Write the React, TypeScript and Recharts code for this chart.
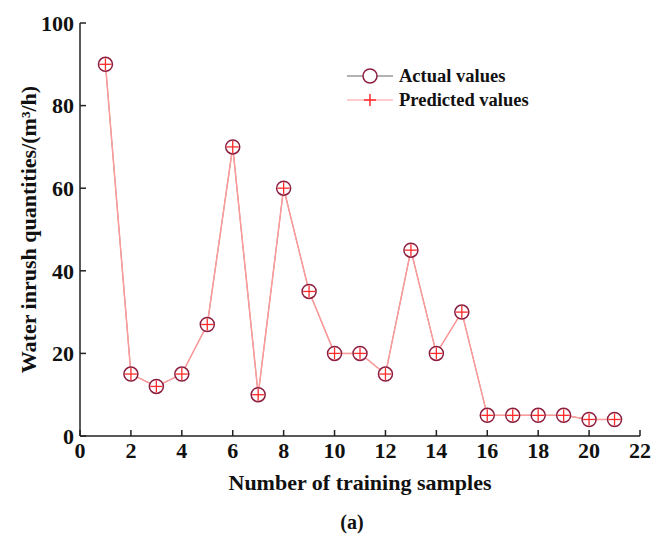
import React from "react";
import { Line, LineChart, XAxis, YAxis } from "recharts";

const samples = [1, 2, 3, 4, 5, 6, 7, 8, 9, 10, 11, 12, 13, 14, 15, 16, 17, 18, 19, 20, 21];
const actualValues = [90, 15, 12, 15, 27, 70, 10, 60, 35, 20, 20, 15, 45, 20, 30, 5, 5, 5, 5, 4, 4];
const predictedValues = [90, 15, 12, 15, 27, 70, 10, 60, 35, 20, 20, 15, 45, 20, 30, 5, 5, 5, 5, 4, 4];
const xTicks = [0, 2, 4, 6, 8, 10, 12, 14, 16, 18, 20, 22];
const yTicks = [0, 20, 40, 60, 80, 100];

const font = '"Liberation Serif", "Times New Roman", serif';
const circleColor = "#8c1f3f";
const plusColor = "#ff2a2a";
const lineColor = "#ff9a9a";

const data = samples.map((s, i) => ({
  sample: s,
  actual: actualValues[i],
  predicted: predictedValues[i],
}));

function PlusDot(props: any) {
  const { cx, cy } = props;
  if (cx == null || cy == null) return null;
  return (
    <g>
      <line x1={cx - 6} x2={cx + 6} y1={cy} y2={cy} stroke={plusColor} strokeWidth={1.3} />
      <line x1={cx} x2={cx} y1={cy - 6} y2={cy + 6} stroke={plusColor} strokeWidth={1.3} />
    </g>
  );
}

function XTick(props: any) {
  const { x, y, payload } = props;
  return (
    <g>
      <line x1={x} x2={x} y1={y - 5} y2={y - 11} stroke="#222" strokeWidth={1.5} />
      <text x={x} y={y} dy="0.77em" textAnchor="middle" fontFamily={font} fontWeight="bold" fontSize={22} fill="#111">
        {payload.value}
      </text>
    </g>
  );
}

function YTick(props: any) {
  const { x, y, payload } = props;
  return (
    <g>
      <line x1={x + 6} x2={x + 12} y1={y} y2={y} stroke="#222" strokeWidth={1.5} />
      <text x={x} y={y} dy="0.35em" textAnchor="end" fontFamily={font} fontWeight="bold" fontSize={22} fill="#111">
        {payload.value}
      </text>
    </g>
  );
}

function LegendBox() {
  const rowStyle: React.CSSProperties = { display: "flex", alignItems: "center", height: 24 };
  const textStyle: React.CSSProperties = { fontFamily: font, fontWeight: "bold", fontSize: 18.5, color: "#111", marginLeft: 6 };
  return (
    <div style={{ position: "absolute", left: 347, top: 64 }}>
      <div style={rowStyle}>
        <svg width={46} height={20}>
          <line x1={0} x2={46} y1={10} y2={10} stroke="#666" strokeWidth={1} />
          <circle cx={23} cy={10} r={7} fill="#fff" stroke={circleColor} strokeWidth={1.5} />
        </svg>
        <span style={textStyle}>Actual values</span>
      </div>
      <div style={rowStyle}>
        <svg width={46} height={20}>
          <line x1={0} x2={46} y1={10} y2={10} stroke={lineColor} strokeWidth={1} />
          <line x1={17} x2={29} y1={10} y2={10} stroke={plusColor} strokeWidth={1.5} />
          <line x1={23} x2={23} y1={4} y2={16} stroke={plusColor} strokeWidth={1.5} />
        </svg>
        <span style={textStyle}>Predicted values</span>
      </div>
    </div>
  );
}

export default function App() {
  return (
    <div style={{ position: "absolute", left: 0, top: 0, width: 652, height: 535, background: "#fff" }}>
      <LineChart width={652} height={535} data={data} margin={{ top: 23, right: 12, bottom: 39, left: 0 }}>
        <XAxis
          dataKey="sample"
          type="number"
          domain={[0, 22]}
          ticks={xTicks}
          interval={0}
          height={60}
          tickSize={0}
          tickMargin={5}
          tick={<XTick />}
          axisLine={{ stroke: "#222", strokeWidth: 1.5 }}
          label={{
            value: "Number of training samples",
            position: "insideBottom",
            offset: 6,
            style: { fontFamily: font, fontWeight: "bold", fontSize: 22, fill: "#111" },
          }}
        />
        <YAxis
          type="number"
          domain={[0, 100]}
          ticks={yTicks}
          interval={0}
          width={80}
          tickSize={0}
          tickMargin={6}
          tick={<YTick />}
          axisLine={{ stroke: "#222", strokeWidth: 1.5 }}
          label={{
            value: "Water inrush quantities/(m³/h)",
            angle: -90,
            position: "center",
            dx: -12,
            style: { fontFamily: font, fontWeight: "bold", fontSize: 22, fill: "#111", textAnchor: "middle" },
          }}
        />
        <Line
          dataKey="actual"
          name="Actual values"
          stroke="#888"
          strokeWidth={1}
          dot={{ r: 7, fill: "#fff", stroke: circleColor, strokeWidth: 1.5 }}
          activeDot={false}
          isAnimationActive={false}
        />
        <Line
          dataKey="predicted"
          name="Predicted values"
          stroke={lineColor}
          strokeWidth={1.5}
          dot={<PlusDot />}
          activeDot={false}
          isAnimationActive={false}
        />
      </LineChart>
      <LegendBox />
      <div
        style={{
          position: "absolute",
          left: 322,
          width: 60,
          top: 511,
          textAlign: "center",
          fontFamily: font,
          fontWeight: "bold",
          fontSize: 20,
          color: "#111",
        }}
      >
        (a)
      </div>
    </div>
  );
}
